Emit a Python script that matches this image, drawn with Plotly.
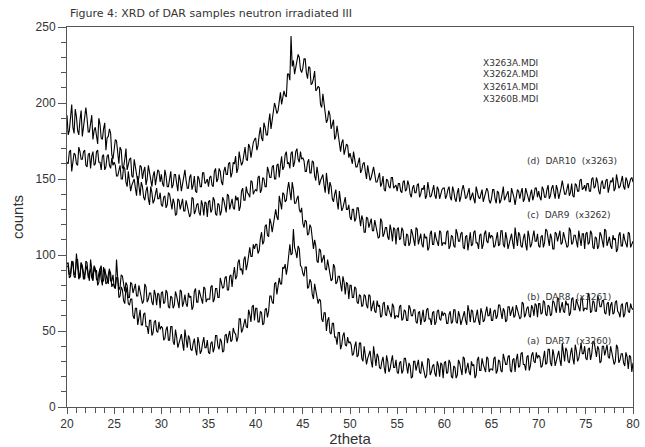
import plotly.graph_objects as go

# 2theta grid: 20 .. 80 in steps of 0.125 (481 points)
X_START, X_STEP, N_PTS = 20.0, 0.125, 481
two_theta = [X_START + X_STEP * i for i in range(N_PTS)]

# Counts read at 20, 20.25, ... 80 (241 values) and at the quarter-step midpoints
# 20.125, 20.375, ... 79.875 (240 values) for each scan.

# (d) DAR10 (x3263)
counts_d = [
    192, 182, 199, 180, 191, 179, 195, 184, 197, 181, 189, 176, 184, 173, 186, 176, 187, 177, 183, 166,
    169, 175, 160, 169, 158, 170, 159, 164, 151, 158, 148, 159, 150, 158, 150, 154, 145, 155, 150, 155,
    153, 145, 152, 145, 155, 146, 153, 142, 149, 146, 156, 144, 151, 143, 152, 141, 150, 145, 154, 148,
    145, 152, 145, 157, 150, 155, 146, 158, 153, 161, 154, 160, 154, 168, 159, 166, 163, 173, 164, 174,
    177, 172, 184, 175, 184, 179, 193, 188, 200, 193, 203, 199, 208, 204, 219, 244, 228, 224, 232, 222,
    223, 229, 216, 223, 213, 221, 209, 210, 197, 200, 187, 195, 183, 189, 178, 180, 168, 176, 169, 172,
    167, 160, 164, 158, 164, 156, 161, 150, 155, 151, 158, 148, 152, 145, 152, 142, 149, 144, 151, 145,
    142, 147, 141, 149, 143, 146, 138, 146, 141, 147, 140, 143, 137, 148, 138, 143, 139, 145, 137, 143,
    144, 139, 145, 136, 142, 135, 144, 138, 146, 137, 142, 136, 141, 134, 142, 137, 143, 138, 144, 136,
    137, 143, 134, 141, 136, 145, 138, 142, 135, 141, 133, 143, 137, 144, 137, 141, 135, 143, 139, 144,
    142, 136, 143, 138, 146, 139, 146, 137, 143, 140, 149, 140, 145, 139, 147, 138, 146, 142, 150, 144,
    142, 147, 142, 151, 145, 148, 140, 149, 144, 150, 145, 148, 142, 153, 144, 149, 145, 151, 144, 150,
    148,
]
counts_d_mid = [
    179, 191, 184, 196, 182, 189, 178, 193, 190, 181, 192, 182, 177, 190, 177, 183, 169, 178, 180, 163,
    176, 166, 171, 157, 163, 156, 163, 152, 163, 154, 151, 158, 155, 146, 159, 148, 152, 146, 156, 148,
    147, 156, 145, 151, 144, 153, 147, 153, 142, 151, 149, 144, 153, 146, 142, 152, 145, 154, 147, 150,
    151, 146, 155, 148, 157, 148, 155, 153, 160, 151, 161, 165, 157, 163, 161, 171, 162, 171, 170, 176,
    169, 179, 177, 187, 179, 187, 183, 196, 197, 195, 207, 204, 205, 219, 215, 224, 219, 228, 230, 220,
    229, 220, 224, 212, 216, 208, 211, 199, 206, 195, 189, 192, 186, 176, 185, 172, 174, 166, 173, 164,
    162, 168, 158, 162, 154, 160, 155, 159, 149, 155, 153, 148, 154, 147, 143, 150, 145, 151, 144, 146,
    147, 142, 148, 142, 149, 140, 144, 141, 146, 138, 144, 146, 139, 143, 139, 146, 137, 143, 140, 144,
    137, 143, 138, 145, 137, 141, 135, 143, 142, 138, 144, 139, 137, 145, 138, 141, 135, 141, 142, 134,
    143, 137, 142, 134, 140, 136, 141, 135, 144, 138, 137, 142, 141, 135, 144, 137, 140, 136, 144, 138,
    138, 145, 138, 143, 137, 144, 141, 146, 137, 144, 144, 140, 147, 141, 139, 147, 142, 149, 143, 146,
    147, 142, 150, 144, 151, 142, 147, 144, 149, 141, 149, 151, 144, 148, 145, 152, 143, 149, 147, 151,
]

# (c) DAR9 (x3262)
counts_c = [
    161, 168, 155, 167, 160, 171, 163, 168, 159, 166, 157, 168, 160, 169, 161, 165, 156, 165, 159, 164,
    161, 152, 157, 150, 158, 148, 155, 142, 148, 144, 152, 139, 145, 136, 145, 133, 141, 136, 144, 137,
    133, 138, 131, 141, 133, 137, 126, 137, 130, 137, 129, 132, 125, 138, 127, 133, 128, 136, 126, 134,
    135, 128, 138, 127, 134, 126, 138, 131, 140, 130, 137, 130, 136, 129, 142, 136, 145, 140, 149, 140,
    143, 151, 141, 151, 145, 158, 151, 158, 150, 159, 151, 165, 158, 168, 161, 167, 158, 168, 163, 168,
    164, 155, 161, 154, 162, 152, 158, 146, 151, 146, 154, 140, 145, 135, 143, 130, 137, 131, 138, 130,
    125, 130, 122, 131, 123, 126, 115, 125, 118, 124, 116, 119, 111, 124, 112, 118, 112, 120, 109, 117,
    117, 110, 118, 107, 114, 106, 117, 109, 118, 107, 114, 105, 111, 103, 114, 107, 115, 109, 116, 106,
    108, 115, 104, 113, 106, 117, 109, 114, 105, 112, 103, 115, 107, 116, 108, 113, 104, 114, 109, 115,
    113, 105, 112, 106, 116, 107, 115, 104, 111, 108, 118, 106, 113, 105, 114, 103, 112, 107, 116, 109,
    106, 112, 105, 117, 110, 114, 104, 115, 109, 116, 108, 112, 105, 118, 107, 113, 108, 116, 106, 114,
    114, 107, 116, 105, 112, 104, 115, 108, 117, 106, 112, 104, 110, 102, 113, 106, 114, 108, 115, 105,
    109,
]
counts_c_mid = [
    160, 169, 160, 166, 159, 168, 163, 169, 158, 167, 165, 159, 168, 161, 156, 166, 158, 166, 157, 159,
    159, 152, 159, 150, 157, 145, 150, 146, 150, 139, 147, 148, 138, 142, 137, 145, 134, 140, 137, 141,
    132, 139, 133, 140, 130, 134, 127, 136, 134, 129, 136, 130, 127, 137, 129, 134, 126, 133, 135, 125,
    136, 130, 136, 126, 133, 129, 136, 128, 139, 133, 131, 139, 138, 132, 144, 136, 141, 138, 148, 142,
    142, 152, 143, 150, 145, 155, 151, 159, 150, 160, 159, 156, 166, 160, 157, 168, 161, 170, 161, 163,
    162, 155, 163, 154, 161, 149, 153, 149, 153, 141, 148, 148, 137, 140, 135, 142, 129, 135, 130, 133,
    123, 130, 124, 131, 119, 123, 115, 124, 121, 116, 123, 116, 112, 122, 114, 118, 110, 116, 118, 107,
    118, 111, 116, 106, 113, 108, 114, 106, 117, 110, 107, 114, 112, 105, 116, 107, 111, 106, 115, 108,
    107, 116, 106, 112, 105, 114, 109, 115, 104, 113, 111, 106, 115, 108, 104, 114, 107, 116, 108, 111,
    112, 106, 115, 107, 116, 105, 111, 108, 114, 104, 113, 115, 106, 111, 107, 116, 105, 112, 109, 114,
    105, 113, 108, 116, 106, 111, 104, 114, 112, 107, 115, 109, 106, 116, 108, 113, 105, 112, 114, 104,
    115, 108, 114, 104, 111, 106, 113, 105, 116, 109, 106, 113, 111, 104, 115, 106, 110, 105, 114, 107,
]

# (b) DAR8 (x3261)
counts_b = [
    93, 85, 93, 87, 97, 88, 95, 84, 90, 87, 97, 84, 91, 83, 91, 80, 88, 82, 91, 83,
    79, 97, 77, 87, 79, 82, 72, 82, 75, 81, 73, 76, 68, 81, 69, 75, 69, 77, 67, 74,
    75, 68, 77, 66, 73, 65, 76, 68, 77, 66, 74, 66, 72, 64, 76, 69, 77, 71, 79, 69,
    71, 79, 69, 78, 72, 85, 78, 85, 77, 86, 79, 92, 86, 97, 91, 97, 90, 102, 99, 107,
    107, 101, 111, 107, 119, 113, 124, 115, 125, 125, 139, 130, 140, 136, 148, 136, 143, 134, 139, 128,
    121, 123, 113, 120, 109, 110, 96, 104, 95, 100, 90, 92, 83, 94, 81, 86, 79, 86, 74, 81,
    80, 72, 79, 69, 74, 66, 74, 67, 74, 63, 70, 62, 66, 59, 68, 61, 67, 62, 68, 58,
    60, 66, 57, 64, 57, 67, 60, 64, 56, 62, 54, 64, 57, 65, 58, 62, 54, 63, 58, 63,
    62, 55, 61, 55, 64, 56, 63, 54, 60, 57, 67, 56, 63, 56, 64, 54, 62, 57, 66, 60,
    57, 63, 58, 67, 61, 65, 56, 66, 60, 66, 60, 64, 58, 69, 59, 65, 60, 67, 60, 67,
    68, 61, 70, 61, 67, 60, 70, 64, 72, 62, 69, 62, 67, 60, 71, 64, 71, 66, 72, 63,
    65, 75, 62, 70, 63, 73, 66, 70, 62, 68, 60, 69, 62, 70, 62, 67, 59, 68, 63, 68,
    64,
]
counts_b_mid = [
    92, 86, 96, 88, 97, 85, 91, 87, 93, 83, 91, 93, 84, 88, 84, 92, 81, 87, 83, 87,
    78, 85, 79, 86, 76, 80, 72, 81, 79, 73, 80, 74, 70, 79, 71, 75, 67, 74, 75, 65,
    76, 69, 75, 65, 72, 67, 73, 65, 76, 69, 68, 75, 73, 66, 78, 69, 73, 68, 78, 71,
    71, 80, 71, 78, 72, 82, 79, 86, 77, 87, 87, 84, 95, 90, 87, 99, 94, 105, 99, 104,
    107, 103, 115, 109, 120, 112, 121, 121, 130, 123, 135, 141, 135, 143, 142, 148, 134, 137, 130, 131,
    118, 122, 114, 118, 104, 106, 95, 103, 98, 91, 97, 89, 84, 92, 82, 86, 76, 82, 82, 71,
    80, 72, 78, 68, 73, 67, 73, 65, 73, 66, 63, 70, 67, 60, 69, 60, 64, 59, 66, 60,
    59, 67, 58, 63, 57, 65, 60, 64, 55, 63, 61, 56, 64, 58, 54, 63, 56, 64, 57, 60,
    61, 55, 63, 56, 64, 55, 60, 57, 63, 54, 63, 64, 56, 61, 57, 65, 56, 62, 60, 65,
    57, 64, 60, 67, 58, 63, 57, 66, 64, 59, 67, 62, 59, 68, 61, 66, 59, 65, 68, 59,
    68, 62, 69, 60, 66, 61, 69, 62, 71, 65, 63, 70, 68, 62, 72, 64, 68, 63, 71, 65,
    64, 72, 63, 69, 63, 71, 66, 70, 61, 69, 67, 61, 69, 63, 59, 68, 61, 69, 62, 65,
]

# (a) DAR7 (x3260)
counts_a = [
    94, 87, 96, 86, 101, 84, 95, 87, 96, 85, 91, 83, 89, 80, 91, 83, 91, 84, 90, 79,
    80, 85, 72, 79, 70, 79, 68, 71, 60, 65, 54, 64, 54, 62, 53, 57, 47, 56, 50, 56,
    53, 44, 51, 44, 53, 43, 51, 39, 45, 42, 51, 39, 45, 37, 45, 34, 42, 37, 46, 39,
    36, 42, 36, 47, 40, 45, 36, 47, 42, 50, 44, 49, 43, 58, 49, 56, 53, 64, 56, 67,
    65, 56, 63, 54, 64, 59, 73, 69, 81, 74, 85, 81, 91, 87, 103, 100, 117, 102, 106, 93,
    88, 92, 78, 84, 74, 81, 70, 71, 58, 62, 50, 59, 48, 55, 46, 49, 38, 47, 41, 46,
    43, 34, 40, 33, 42, 32, 40, 28, 34, 30, 40, 27, 33, 25, 33, 22, 30, 25, 34, 26,
    23, 29, 22, 32, 25, 29, 19, 30, 24, 31, 22, 26, 19, 32, 21, 27, 22, 30, 20, 28,
    29, 22, 31, 20, 27, 19, 31, 24, 33, 22, 29, 21, 27, 19, 31, 24, 32, 26, 33, 23,
    25, 32, 22, 31, 24, 35, 28, 33, 24, 31, 23, 35, 27, 36, 28, 33, 24, 34, 30, 36,
    34, 26, 34, 28, 38, 29, 38, 27, 34, 31, 42, 30, 37, 29, 39, 28, 37, 32, 42, 35,
    32, 38, 31, 43, 36, 40, 29, 40, 34, 41, 32, 36, 28, 41, 29, 35, 29, 36, 25, 33,
    29,
]
counts_a_mid = [
    95, 88, 95, 85, 92, 86, 93, 84, 95, 88, 85, 92, 90, 82, 93, 83, 87, 81, 88, 81,
    78, 85, 73, 77, 68, 75, 67, 71, 58, 65, 61, 54, 61, 53, 48, 57, 49, 57, 49, 51,
    52, 45, 53, 44, 53, 41, 46, 42, 48, 37, 46, 47, 38, 42, 38, 46, 35, 42, 39, 44,
    35, 43, 39, 47, 38, 43, 37, 48, 47, 43, 52, 48, 46, 58, 51, 58, 52, 61, 66, 57,
    65, 56, 62, 55, 65, 63, 73, 68, 82, 79, 81, 92, 94, 92, 107, 101, 105, 98, 104, 92,
    86, 92, 79, 82, 71, 76, 68, 70, 56, 62, 57, 49, 55, 46, 41, 49, 41, 49, 40, 42,
    41, 35, 43, 34, 42, 30, 35, 32, 37, 26, 34, 35, 26, 30, 26, 34, 23, 30, 26, 31,
    22, 30, 24, 32, 22, 27, 20, 30, 28, 23, 30, 24, 21, 31, 23, 28, 20, 27, 29, 19,
    30, 23, 29, 19, 26, 21, 29, 21, 32, 25, 23, 30, 28, 21, 33, 24, 28, 23, 32, 25,
    24, 33, 24, 30, 23, 32, 28, 34, 23, 32, 31, 26, 35, 28, 24, 34, 27, 36, 29, 32,
    33, 27, 37, 29, 38, 27, 34, 31, 37, 27, 37, 39, 30, 35, 32, 41, 30, 37, 35, 40,
    31, 39, 35, 43, 33, 38, 30, 40, 38, 33, 40, 34, 30, 39, 31, 35, 27, 33, 34, 23,
]

file_names = ["X3263A.MDI", "X3262A.MDI", "X3261A.MDI", "X3260B.MDI"]
curve_labels = ["(d)\u00a0 DAR10\u00a0 (x3263)", "(c)\u00a0 DAR9\u00a0 (x3262)",
                "(b)\u00a0 DAR8\u00a0 (x3261)", "(a)\u00a0 DAR7\u00a0 (x3260)"]
label_y = [161.8, 126.3, 72.4, 43.4]
file_y = [226.3, 218.8, 210.5, 202.6]
title_text = "Figure 4: XRD of DAR samples neutron irradiated III"


def merge(on_grid, mids):
    out = []
    for i, v in enumerate(on_grid):
        out.append(v)
        if i < len(mids):
            out.append(mids[i])
    return out


series = [merge(counts_d, counts_d_mid), merge(counts_c, counts_c_mid),
          merge(counts_b, counts_b_mid), merge(counts_a, counts_a_mid)]

fig = go.Figure()
for ys in series:
    fig.add_trace(go.Scatter(x=two_theta, y=ys, mode="lines",
                             line=dict(color="black", width=1.1), showlegend=False))

text_font = dict(family="DejaVu Sans", size=9, color="#333")
ann = []
for name, yv in zip(file_names, file_y):
    ann.append(dict(x=63.86, y=yv, xref="x", yref="y", text=name, showarrow=False,
                    xanchor="left", yanchor="middle", font=text_font))
for lab, yv in zip(curve_labels, label_y):
    ann.append(dict(x=68.6, y=yv, xref="x", yref="y", text=lab, showarrow=False,
                    xanchor="left", yanchor="middle", font=text_font))
ann.append(dict(x=1 / 566, y=(407 - 13) / 380, xref="paper", yref="paper", text=title_text,
                showarrow=False, xanchor="left", yanchor="middle",
                font=dict(family="DejaVu Sans", size=11, color="#333")))

axis_common = dict(ticks="outside", tickcolor="#555", showline=True, linecolor="#555",
                   linewidth=1, mirror=True, showgrid=False, zeroline=False, automargin=False,
                   tickfont=dict(family="Liberation Sans", size=12, color="#333"))

fig.update_layout(
    width=645, height=447,
    margin=dict(l=67, r=12, t=27, b=40),
    paper_bgcolor="white", plot_bgcolor="white",
    annotations=ann,
    xaxis=dict(range=[20, 80], dtick=5, tick0=20, ticklen=6,
               minor=dict(dtick=1, ticks="outside", ticklen=5, tickcolor="#555"),
               title=dict(text="2theta", standoff=4,
                          font=dict(family="Liberation Sans", size=15, color="#333")),
               **axis_common),
    yaxis=dict(range=[0, 250], dtick=50, tick0=0, ticklen=8,
               minor=dict(dtick=10, ticks="outside", ticklen=5, tickcolor="#555"),
               title=dict(text="counts", standoff=8,
                          font=dict(family="Liberation Sans", size=15, color="#333")),
               **axis_common),
)

fig.write_html("out.html", config={"displayModeBar": False},
               post_script="document.body.style.margin='0px';document.body.style.overflow='hidden';")
